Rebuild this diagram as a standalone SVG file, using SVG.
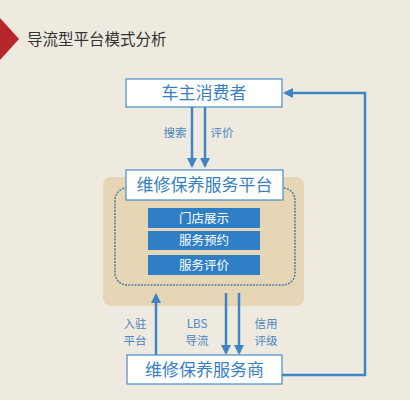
<svg xmlns="http://www.w3.org/2000/svg" width="410" height="400" viewBox="0 0 410 400">
<style>
.box{fill:#ffffff;stroke:#4a8cc8;stroke-width:1.2}
.big{font-family:"Noto Sans CJK SC",sans-serif;font-size:17px;fill:#3a7fc2;text-anchor:middle}
.item{fill:#2f7fc6}
.itxt{font-family:"Noto Sans CJK SC",sans-serif;font-size:12.5px;fill:#ffffff;text-anchor:middle}
.lbl{font-family:"Noto Sans CJK SC",sans-serif;font-size:11.5px;fill:#4a86c0;text-anchor:middle}
.ln{stroke:#3f84c4;stroke-width:2.5;fill:none}
</style>
<defs>
<marker id="ah" viewBox="0 0 10 10" refX="8" refY="5" markerWidth="4" markerHeight="4" orient="auto" markerUnits="strokeWidth">
<path d="M0,0 L10,5 L0,10 z" fill="#3f84c4"/>
</marker>
</defs>
<rect width="410" height="400" fill="#efeadf"/>
<g id="title">
<polygon points="0,18 19,39 0,60" fill="#b8262d"/>
<text x="27" y="45" font-family="'Noto Sans CJK SC',sans-serif" font-size="15.5" fill="#333333">导流型平台模式分析</text>
</g>
<g id="platform-bg">
<rect x="103" y="177" width="201" height="129" rx="8" fill="#e6d6b6"/>
<rect x="115" y="188" width="180" height="97" rx="12" fill="none" stroke="#4f7b9a" stroke-width="1.5" stroke-dasharray="2,1.2"/>
</g>
<g id="consumer">
<rect class="box" x="126" y="79" width="156" height="28"/>
<text class="big" x="204" y="99">车主消费者</text>
</g>
<g id="platform">
<rect class="box" x="126" y="170" width="157" height="30"/>
<text class="big" x="204.5" y="191">维修保养服务平台</text>
</g>
<g id="item1">
<rect class="item" x="148" y="208" width="112" height="20"/>
<text class="itxt" x="204" y="222.5">门店展示</text>
</g>
<g id="item2">
<rect class="item" x="148" y="231" width="112" height="19"/>
<text class="itxt" x="204" y="245">服务预约</text>
</g>
<g id="item3">
<rect class="item" x="148" y="255" width="112" height="20"/>
<text class="itxt" x="204" y="269.5">服务评价</text>
</g>
<g id="provider">
<rect class="box" x="127" y="355" width="155" height="29"/>
<text class="big" x="204.5" y="376">维修保养服务商</text>
</g>
<g id="connectors">
<line class="ln" x1="192" y1="107" x2="192" y2="166" marker-end="url(#ah)"/>
<line class="ln" x1="205" y1="107" x2="205" y2="166" marker-end="url(#ah)"/>
<line class="ln" x1="156" y1="355" x2="156" y2="295" marker-end="url(#ah)"/>
<line class="ln" x1="226" y1="293" x2="226" y2="353" marker-end="url(#ah)"/>
<line class="ln" x1="239" y1="293" x2="239" y2="353" marker-end="url(#ah)"/>
<polyline class="ln" points="282,375 365,375 365,93 285,93" marker-end="url(#ah)"/>
<text class="lbl" x="175" y="137">搜索</text>
<text class="lbl" x="222" y="137">评价</text>
<text class="lbl" x="135" y="328">入驻</text>
<text class="lbl" x="135" y="345">平台</text>
<text class="lbl" x="197" y="328">LBS</text>
<text class="lbl" x="197" y="345">导流</text>
<text class="lbl" x="266" y="328">信用</text>
<text class="lbl" x="266" y="345">评级</text>
</g>
</svg>
